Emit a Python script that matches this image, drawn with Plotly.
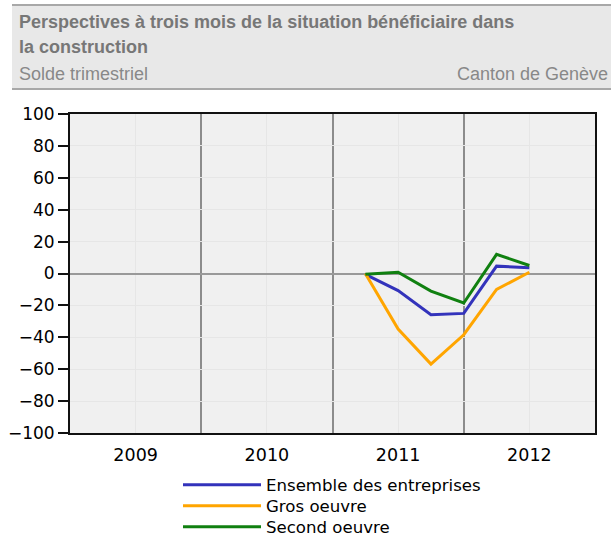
import plotly.graph_objects as go

quarters = [2011.25, 2011.5, 2011.75, 2012.0, 2012.25, 2012.5]
ensemble = [-0.5, -10.7, -25.8, -25.0, 4.6, 3.6]
gros_oeuvre = [0.0, -34.8, -56.8, -38.4, -10.0, 0.8]
second_oeuvre = [-0.5, 0.8, -11.0, -18.5, 12.0, 5.0]

year_labels = ["2009", "2010", "2011", "2012"]
year_centers = [2009.5, 2010.5, 2011.5, 2012.5]
y_ticks = list(range(-100, 101, 20))

series = [
    ("Ensemble des entreprises", ensemble, "#3333bb"),
    ("Gros oeuvre", gros_oeuvre, "#ffa500"),
    ("Second oeuvre", second_oeuvre, "#108010"),
]

L, R, T, B = 70, 16, 114, 103
W, H = 611, 536
pw = W - L - R
ph = H - T - B

def px_x(x):
    return (x - L) / pw

def px_y(y):
    return (H - B - y) / ph

legend_rows = [485, 506, 527]
legend_ids = ["legend", "legend2", "legend3"]

fig = go.Figure()
for (name, vals, color), lid in zip(series, legend_ids):
    fig.add_trace(go.Scatter(x=quarters, y=vals, mode="lines", name=name,
                             legend=lid, line=dict(color=color, width=3)))

layout_legends = {}
for lid, row in zip(legend_ids, legend_rows):
    layout_legends[lid] = dict(
        xref="paper", yref="paper", x=px_x(178), y=px_y(row),
        xanchor="left", yanchor="middle",
        font=dict(size=16.6, family="DejaVu Sans", color="#000"),
        bgcolor="rgba(0,0,0,0)", itemwidth=78,
    )

fig.update_layout(
    width=W, height=H,
    margin=dict(l=L, r=R, t=T, b=B, autoexpand=False),
    paper_bgcolor="white",
    plot_bgcolor="#f0f0f0",
    font=dict(family="DejaVu Sans", color="#000"),
    showlegend=True,
    **layout_legends,
)

fig.update_xaxes(
    range=[2009, 2013],
    tickvals=year_centers, ticktext=year_labels,
    ticks="outside", ticklen=5, tickcolor="rgba(0,0,0,0)",
    tickfont=dict(size=17.5),
    showgrid=True, gridcolor="#e6e6e6", gridwidth=1,
    minor=dict(tick0=2009, dtick=1, showgrid=True, gridcolor="#8c8c8c", gridwidth=2, ticks=""),
    showline=True, linecolor="#111", linewidth=2, mirror=True,
    zeroline=False,
)
fig.update_yaxes(
    range=[-100, 100],
    tickvals=y_ticks,
    ticks="outside", ticklen=10, tickcolor="#111", tickwidth=2,
    tickfont=dict(size=17),
    showgrid=True, gridcolor="#e6e6e6", gridwidth=1,
    zeroline=True, zerolinecolor="#999", zerolinewidth=2,
    showline=True, linecolor="#111", linewidth=2, mirror=True,
)

# header band
fig.add_shape(type="rect", xref="paper", yref="paper",
              x0=px_x(12), x1=px_x(611), y0=px_y(89), y1=px_y(5),
              fillcolor="#e8e8e8", line=dict(width=0), layer="below")
for yy in (5, 89):
    fig.add_shape(type="line", xref="paper", yref="paper",
                  x0=px_x(12), x1=px_x(611), y0=px_y(yy), y1=px_y(yy),
                  line=dict(color="#a8a8a8", width=2))

title_font = dict(family="Liberation Sans", size=18, color="#777777")
sub_font = dict(family="Liberation Sans", size=18, color="#888888")
annos = [
    ("<b>Perspectives à trois mois de la situation bénéficiaire dans</b>", 17, 22, "left", title_font),
    ("<b>la construction</b>", 17, 47, "left", title_font),
    ("Solde trimestriel", 17, 74, "left", sub_font),
    ("Canton de Genève", 610, 74, "right", sub_font),
]
for text, x, y, anchor, f in annos:
    fig.add_annotation(text=text, xref="paper", yref="paper",
                       x=px_x(x), y=px_y(y), xanchor=anchor, yanchor="middle",
                       showarrow=False, font=f)

fig.write_html("out.html", config={"displayModeBar": False},
               post_script="document.body.style.margin='0px';document.body.style.overflow='hidden';")
